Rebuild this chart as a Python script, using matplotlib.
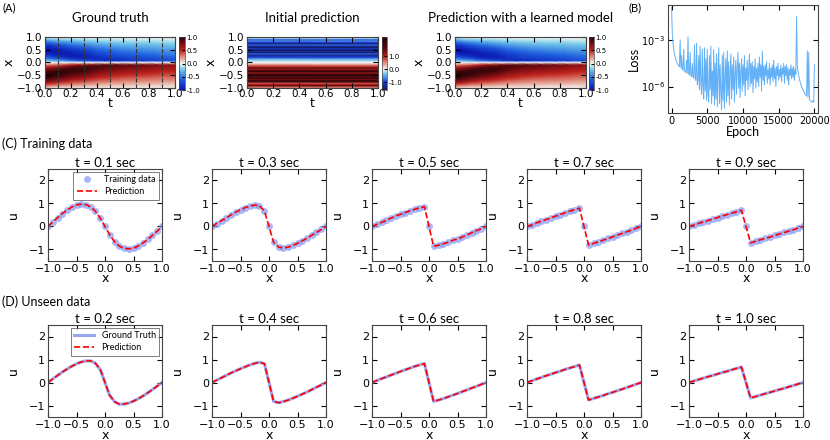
import numpy as np
import matplotlib
matplotlib.use('Agg')
import matplotlib.pyplot as plt
from matplotlib.colors import LinearSegmentedColormap
from matplotlib.ticker import FormatStrFormatter

# ---- data ----
x_grid = [-1.0, -0.92, -0.83, -0.75, -0.67, -0.58, -0.5, -0.42, -0.33, -0.25, -0.17, -0.08, 0.0,
          0.08, 0.17, 0.25, 0.33, 0.42, 0.5, 0.58, 0.67, 0.75, 0.83, 0.92, 1.0]
t_grid = [0.0, 0.1, 0.2, 0.3, 0.4, 0.5, 0.6, 0.7, 0.8, 0.9, 1.0]

u_t00 = [0, .25, .51, .71, .86, .97, 1.0, .97, .86, .71, .51, .25, 0, -.25, -.51, -.71, -.86, -.97, -1.0, -.97, -.86, -.71, -.51, -.25, 0]
u_t01 = [0, .19, .39, .56, .71, .85, .94, .97, .95, .85, .67, .35, 0, -.35, -.67, -.85, -.95, -.97, -.94, -.85, -.71, -.56, -.39, -.19, 0]
u_t02 = [0, .15, .31, .45, .58, .71, .81, .89, .94, .94, .84, .55, 0, -.55, -.84, -.94, -.94, -.89, -.81, -.71, -.58, -.45, -.31, -.15, 0]
u_t03 = [0, .13, .26, .38, .5, .63, .73, .82, .9, .93, .9, .68, 0, -.68, -.9, -.93, -.9, -.82, -.73, -.63, -.5, -.38, -.26, -.13, 0]
u_t04 = [0, .1, .21, .31, .41, .51, .6, .68, .77, .83, .88, .82, 0, -.82, -.88, -.83, -.77, -.68, -.6, -.51, -.41, -.31, -.21, -.1, 0]
u_t05 = [0, .09, .18, .27, .36, .46, .53, .6, .69, .75, .81, .86, 0, -.86, -.81, -.75, -.69, -.6, -.53, -.46, -.36, -.27, -.18, -.09, 0]
u_t06 = [0, .08, .17, .24, .32, .4, .48, .55, .63, .7, .76, .82, 0, -.82, -.76, -.7, -.63, -.55, -.48, -.4, -.32, -.24, -.17, -.08, 0]
u_t07 = [0, .07, .16, .23, .3, .38, .45, .52, .6, .67, .73, .8, 0, -.8, -.73, -.67, -.6, -.52, -.45, -.38, -.3, -.23, -.16, -.07, 0]
u_t08 = [0, .07, .15, .22, .29, .36, .43, .49, .57, .63, .69, .76, 0, -.76, -.69, -.63, -.57, -.49, -.43, -.36, -.29, -.22, -.15, -.07, 0]
u_t09 = [0, .06, .14, .2, .26, .33, .39, .46, .52, .58, .64, .71, 0, -.71, -.64, -.58, -.52, -.46, -.39, -.33, -.26, -.2, -.14, -.06, 0]
u_t10 = [0, .06, .13, .19, .25, .31, .37, .43, .49, .55, .61, .67, 0, -.67, -.61, -.55, -.49, -.43, -.37, -.31, -.25, -.19, -.13, -.06, 0]
u_slices = [u_t00, u_t01, u_t02, u_t03, u_t04, u_t05, u_t06, u_t07, u_t08, u_t09, u_t10]

# initial (untrained) prediction: horizontal bands, x from -1 to 1
x_init = [-1.0, -0.95, -0.9, -0.85, -0.8, -0.75, -0.7, -0.65, -0.6, -0.55, -0.5, -0.45, -0.4, -0.35,
          -0.3, -0.25, -0.2, -0.15, -0.1, -0.05, 0.0, 0.05, 0.1, 0.15, 0.2, 0.25, 0.3, 0.35, 0.4,
          0.45, 0.5, 0.55, 0.6, 0.65, 0.7, 0.75, 0.8, 0.85, 0.9, 0.95, 1.0]
u_init = [0.5, 0.7, 1.8, 1.0, 0.8, 1.9, 2.1, 1.4, 2.2, 1.5, 2.3, 2.0, 1.2, 2.1, 1.8, 1.1, 1.6, 0.9,
          0.7, 0.3, 0.0, -0.1, -0.3, -0.5, -0.9, -1.1, -1.3, -0.8, -1.5, -1.2, -1.6, -1.0, -1.55,
          -1.2, -0.8, -1.45, -1.0, -0.6, -0.9, -0.3, 0.1]

# training loss (log10), one value every 100 epochs
loss_log10 = [-0.9, -2.6, -3.2, -3.6, -3.9, -4.1, -4.25, -4.4, -4.5, -4.6,
              -4.65, -4.72, -3.0, -4.8, -4.0, -4.9, -4.95, -3.6, -5.0, -5.05,
              -5.1, -4.3, -5.15, -2.8, -5.2, -5.25, -3.8, -5.3, -5.35, -4.5,
              -5.4, -5.45, -3.3, -5.5, -5.6, -3.2, -5.9, -5.65, -4.0, -6.2,
              -3.4, -5.8, -6.5, -3.6, -6.0, -6.8, -3.5, -6.3, -4.2, -6.9,
              -3.6, -6.5, -7.0, -4.0, -6.2, -3.4, -7.1, -5.0, -6.6, -3.6,
              -7.2, -4.5, -6.8, -3.9, -7.3, -5.2, -3.5, -7.1, -4.6, -6.4,
              -7.5, -4.0, -6.9, -3.8, -7.4, -5.5, -4.2, -7.0, -3.7, -6.6,
              -4.4, -7.2, -5.0, -3.9, -6.8, -4.6, -6.2, -4.1, -7.0, -5.2,
              -4.3, -6.5, -4.8, -3.8, -6.1, -4.5, -6.7, -5.0, -4.2, -6.3,
              -4.6, -5.9, -4.0, -6.6, -4.8, -5.6, -4.3, -6.2, -4.9, -3.9,
              -6.0, -4.5, -5.8, -4.4, -6.4, -4.7, -5.5, -4.2, -6.1, -4.8,
              -5.7, -4.5, -6.0, -4.1, -5.4, -4.6, -6.3, -3.7, -5.6, -4.7,
              -5.9, -4.6, -5.3, -4.4, -5.8, -4.9, -5.5, -4.5, -5.9, -4.8,
              -5.4, -4.6, -5.7, -4.3, -5.5, -4.8, -6.0, -4.7, -5.3, -4.5,
              -5.6, -4.9, -5.4, -4.6, -5.7, -4.8, -5.2, -4.5, -5.8, -4.7,
              -5.3, -4.6, -5.6, -4.8, -5.9, -4.9, -5.3, -4.6, -5.5, -4.8,
              -5.4, -4.7, -5.6, -4.9, -5.2, -1.5, -4.6, -5.0, -5.3, -5.5,
              -5.7, -5.85, -6.0, -6.1, -6.2, -6.3, -6.4, -6.5, -6.55, -6.6,
              -3.7, -6.7, -3.8, -6.8, -6.9, -6.95, -7.0, -7.0, -6.9, -7.0,
              -4.6]
epochs = np.arange(len(loss_log10)) * 100

train_times = [0.1, 0.3, 0.5, 0.7, 0.9]
train_u = [u_t01, u_t03, u_t05, u_t07, u_t09]
test_times = [0.2, 0.4, 0.6, 0.8, 1.0]
test_u = [u_t02, u_t04, u_t06, u_t08, u_t10]

# ---- style ----
plt.rcParams['font.family'] = 'DejaVu Sans'
plt.rcParams['xtick.direction'] = 'in'
plt.rcParams['ytick.direction'] = 'in'
plt.rcParams['xtick.top'] = True
plt.rcParams['ytick.right'] = True
plt.rcParams['xtick.major.size'] = 3.5
plt.rcParams['ytick.major.size'] = 3.5
plt.rcParams['xtick.major.pad'] = 2
plt.rcParams['ytick.major.pad'] = 2
plt.rcParams['xtick.labelsize'] = 8
plt.rcParams['ytick.labelsize'] = 8
plt.rcParams['axes.edgecolor'] = '#444444'
plt.rcParams['axes.linewidth'] = 0.8
TF = 'Lato'

cmap_gt = LinearSegmentedColormap.from_list('gt', [
    (0.0, '#0a14b0'), (0.2, '#1f5fe0'), (0.38, '#6fc4ea'), (0.46, '#c9ecef'), (0.5, '#f6f3f1'),
    (0.6, '#e6a292'), (0.75, '#c0231c'), (0.88, '#760c12'), (1.0, '#260406')])
cmap_init = LinearSegmentedColormap.from_list('init', [
    (0.0, '#141a50'), (0.146, '#1a3ad8'), (0.293, '#6cc0e8'), (0.39, '#f6f3f1'),
    (0.512, '#e29080'), (0.634, '#b8201c'), (0.78, '#5a0a10'), (1.0, '#1a0306')])

fig = plt.figure(figsize=(8.3, 4.4), dpi=100)


def px_axes(l, t, r, b):
    return fig.add_axes([l / 830, 1 - b / 440, (r - l) / 830, (b - t) / 440])


U = np.column_stack(u_slices)
T2, X2 = np.meshgrid(t_grid, x_grid)


def heat(ax, cax, C, TT, XX, cmap, vmin, vmax, cticks, title):
    m = ax.pcolormesh(TT, XX, C, shading='gouraud', cmap=cmap, vmin=vmin, vmax=vmax)
    ax.set_xlim(0, 1)
    ax.set_ylim(-1, 1)
    ax.set_xticks([0, 0.2, 0.4, 0.6, 0.8, 1.0])
    ax.set_yticks([-1, -0.5, 0, 0.5, 1])
    ax.tick_params(labelsize=7.5)
    ax.tick_params(axis='x', pad=1)
    ax.set_xlabel('t', fontsize=9)
    ax.xaxis.set_label_coords(0.5, -0.17)
    ax.set_ylabel('x', fontsize=9)
    ax.yaxis.set_label_coords(-0.225, 0.5)
    ax.set_title(title, fontsize=9.5, family=TF, pad=11)
    cb = fig.colorbar(m, cax=cax, ticks=cticks, format=FormatStrFormatter('%.1f'))
    cb.outline.set_linewidth(0.5)
    cax.tick_params(labelsize=5, length=2, direction='in', pad=1)
    return m


ax = px_axes(45, 37, 175, 88)
cax = px_axes(179, 37, 185, 90)
heat(ax, cax, U, T2, X2, cmap_gt, -1, 1, [-1, -0.5, 0, 0.5, 1], 'Ground truth')
for t in train_times:
    ax.axvline(t, color='#333333', ls='--', lw=0.8)

ax = px_axes(247, 37, 378, 88)
cax = px_axes(382, 37, 387, 90)
Ti, Xi = np.meshgrid([0.0, 1.0], x_init)
heat(ax, cax, np.column_stack([u_init, u_init]), Ti, Xi, cmap_init, -1.6, 2.5, [-1, 0, 1],
     'Initial prediction')

ax = px_axes(455, 37, 586, 88)
cax = px_axes(589, 37, 594, 90)
heat(ax, cax, U, T2, X2, cmap_gt, -1, 1, [-1, -0.5, 0, 0.5, 1], 'Prediction with a learned model')

# loss
ax = px_axes(668, 5, 818, 113)
ax.plot(epochs, 10.0 ** np.array(loss_log10), color='#62b0f7', lw=0.7)
ax.set_yscale('log')
ax.set_ylim(10 ** -7.7, 10 ** -0.75)
ax.set_xlim(-500, 20500)
ax.set_yticks([1e-6, 1e-3])
ax.minorticks_off()
ax.set_xticks([0, 5000, 10000, 15000, 20000])
ax.tick_params(labelsize=7)
ax.set_xlabel('Epoch', fontsize=9, family=TF, labelpad=0)
ax.set_ylabel('Loss', fontsize=9, family=TF, labelpad=1)

# rows C and D
lefts = [48, 212, 372, 527, 689]


def curve_axes(ax, title):
    ax.set_xlim(-1, 1)
    ax.set_ylim(-1.5, 2.5)
    ax.set_xticks([-1, -0.5, 0, 0.5, 1])
    ax.set_yticks([-1, 0, 1, 2])
    ax.set_xlabel('x', fontsize=9)
    ax.xaxis.set_label_coords(0.5, -0.125)
    ax.set_ylabel('u', fontsize=9)
    ax.yaxis.set_label_coords(-0.245, 0.5)
    ax.set_title(title, fontsize=9.5, family=TF, pad=1)


def small_legend(ax):
    lg = ax.legend(loc='upper right', fancybox=False, borderpad=0.4, numpoints=1,
                   handlelength=2.2, labelspacing=0.3, borderaxespad=0.3,
                   prop={'family': TF, 'size': 6.5})
    lg.get_frame().set_edgecolor('#444444')
    lg.get_frame().set_linewidth(0.6)


for i, l in enumerate(lefts):
    ax = px_axes(l, 169, l + 114, 261)
    ax.plot(x_grid, train_u[i], 'o', color='#7f90f0', ms=5, mec='none', alpha=0.65,
            label='Training data')
    ax.plot(x_grid, train_u[i], '--', color='red', lw=1.2, label='Prediction')
    curve_axes(ax, 't = %.1f sec' % train_times[i])
    if i == 0:
        small_legend(ax)

    ax = px_axes(l, 325, l + 114, 417)
    ax.plot(x_grid, test_u[i], '-', color='#8090f0', lw=2.2, alpha=0.8, label='Ground Truth')
    ax.plot(x_grid, test_u[i], '--', color='red', lw=1.2, label='Prediction')
    curve_axes(ax, 't = %.1f sec' % test_times[i])
    if i == 0:
        small_legend(ax)

fig.text(2 / 830, 1 - 8 / 440, '(A)', fontsize=8, family=TF, va='center')
fig.text(628 / 830, 1 - 8 / 440, '(B)', fontsize=8, family=TF, va='center')
fig.text(2 / 830, 1 - 144 / 440, '(C) Training data', fontsize=9, family=TF, va='center')
fig.text(2 / 830, 1 - 302 / 440, '(D) Unseen data', fontsize=9, family=TF, va='center')

fig.savefig('out.png', dpi=100)
